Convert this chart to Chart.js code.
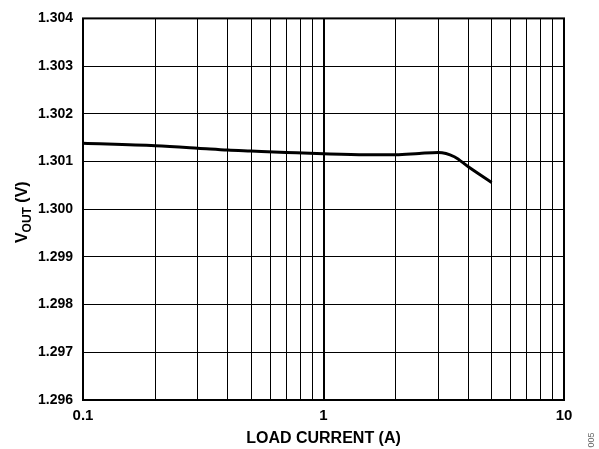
<!DOCTYPE html>
<html><head><meta charset="utf-8">
<script src="https://cdn.jsdelivr.net/npm/chart.js@4/dist/chart.umd.min.js"></script>
<style>html,body{margin:0;padding:0;background:#fff}#wrap{width:599px;height:449px;position:relative}</style>
</head><body><div id="wrap"><canvas id="c" width="599" height="449"></canvas></div>
<script>
const loadCurrent = [0.1, 0.2, 0.3, 0.4, 0.5, 0.7, 1, 1.5, 2, 2.5, 3, 3.5, 4, 5];
const vout = [1.30138, 1.30133, 1.30128, 1.30124, 1.30122, 1.30119, 1.30116, 1.30114, 1.30114, 1.30117, 1.30119, 1.30110, 1.30089, 1.30056];
const xTickLabels = ["0.1", "1", "10"];
const yTickValues = [1.296, 1.297, 1.298, 1.299, 1.300, 1.301, 1.302, 1.303, 1.304];
const xTitle = "LOAD CURRENT (A)";
const yTitleMain = "V", yTitleSub = "OUT", yTitleEnd = " (V)";
const figId = "005";

const FONT = "'Liberation Sans', Arial, sans-serif";

const titles = {
  id: 'titles',
  afterDraw(chart) {
    const ctx = chart.ctx, a = chart.chartArea;
    ctx.save();
    ctx.fillStyle = '#000';
    ctx.font = "bold 16px " + FONT;
    ctx.textAlign = 'center';
    ctx.textBaseline = 'middle';
    ctx.fillText(xTitle, (a.left + a.right) / 2, 439);
    ctx.translate(22, (a.top + a.bottom) / 2 + 3);
    ctx.rotate(-Math.PI / 2);
    ctx.textAlign = 'left';
    ctx.textBaseline = 'alphabetic';
    const f1 = "bold 16px " + FONT, f2 = "bold 12px " + FONT;
    ctx.font = f1; const w1 = ctx.measureText(yTitleMain).width, w3 = ctx.measureText(yTitleEnd).width;
    ctx.font = f2; const w2 = ctx.measureText(yTitleSub).width;
    let x = -(w1 + w2 + w3) / 2;
    ctx.font = f1; ctx.fillText(yTitleMain, x, 5); x += w1;
    ctx.font = f2; ctx.fillText(yTitleSub, x, 9); x += w2;
    ctx.font = f1; ctx.fillText(yTitleEnd, x, 5);
    ctx.restore();
    ctx.save();
    ctx.fillStyle = '#666';
    ctx.font = "9px " + FONT;
    ctx.translate(592, 440);
    ctx.rotate(-Math.PI / 2);
    ctx.textAlign = 'center';
    ctx.textBaseline = 'middle';
    ctx.fillText(figId, 0, 0);
    ctx.restore();
    ctx.save();
    ctx.strokeStyle = '#000';
    ctx.lineWidth = 2;
    ctx.strokeRect(a.left, a.top, a.right - a.left, a.bottom - a.top);
    ctx.restore();
  }
};

new Chart(document.getElementById('c'), {
  type: 'line',
  data: {
    datasets: [{
      data: loadCurrent.map((x, i) => ({x, y: vout[i]})),
      borderColor: '#000',
      borderWidth: 3,
      pointRadius: 0,
      tension: 0.4,
      cubicInterpolationMode: 'monotone',
      fill: false
    }]
  },
  options: {
    responsive: false,
    animation: false,
    devicePixelRatio: 1,
    layout: { padding: { top: 17, right: 35, left: 0, bottom: 0 } },
    plugins: { legend: { display: false }, tooltip: { enabled: false } },
    scales: {
      x: {
        type: 'logarithmic',
        min: 0.1, max: 10,
        afterBuildTicks(scale) {
          const t = [];
          for (let d = 0.1; d < 10; d *= 10) {
            for (let m = 1; m < 10; m++) t.push({ value: +(d * m).toPrecision(3) });
          }
          t.push({ value: 10 });
          scale.ticks = t;
        },
        afterFit(scale) { scale.height = 49; },
        border: { display: false },
        grid: {
          color: '#000',
          drawTicks: false,
          lineWidth: (c) => {
            const v = c.tick ? c.tick.value : 0;
            return Math.abs(v - 1) < 1e-9 ? 2 : 1;
          }
        },
        ticks: {
          autoSkip: false,
          maxRotation: 0,
          padding: 7,
          color: '#000',
          font: { family: FONT, size: 15, weight: 'bold' },
          callback: (v) => {
            const l = String(+v.toPrecision(3));
            return xTickLabels.includes(l) ? l : '';
          }
        }
      },
      y: {
        min: 1.296, max: 1.304,
        afterBuildTicks(scale) { scale.ticks = yTickValues.map(v => ({ value: v })); },
        afterFit(scale) { scale.width = 83; },
        border: { display: false },
        grid: { color: '#000', lineWidth: 1, drawTicks: false },
        ticks: {
          padding: 10,
          color: '#000',
          font: { family: FONT, size: 14, weight: 'bold' },
          callback: (v) => v.toFixed(3)
        }
      }
    }
  },
  plugins: [titles]
});
</script></body></html>
